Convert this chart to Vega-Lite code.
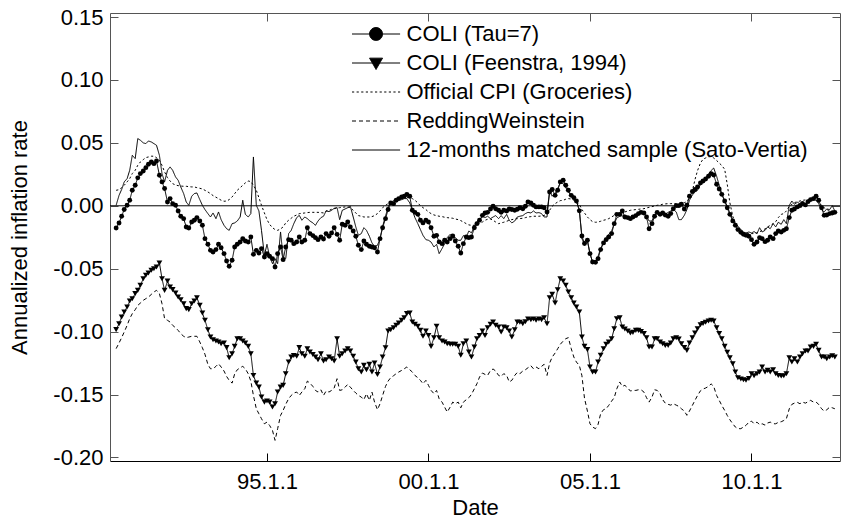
{
"$schema":"https://vega.github.io/schema/vega-lite/v6.json",
"width":730,"height":448,
"autosize":{"type":"none"},
"padding":{"left":110,"top":13,"right":1,"bottom":63},
"background":"white",
"config":{"font":"Liberation Sans","view":{"stroke":null},
"axis":{"grid":false,"labelFont":"Liberation Sans","titleFont":"Liberation Sans","labelFontSize":22,"titleFontSize":22,"labelColor":"black","titleColor":"black","titleFontWeight":"normal","domainColor":"#555","tickColor":"#555","labelFlush":false,"labelOverlap":false}},
"data":{"values":[
{"t":1990.33,"a":-0.0176,"b":-0.0984,"c":0.0123,"r":-0.1135,"s":0.0004},
{"t":1990.42,"a":-0.0137,"b":-0.0937,"c":0.0128,"r":-0.109,"s":0.0083},
{"t":1990.5,"a":-0.0083,"b":-0.0884,"c":0.0143,"r":-0.1048,"s":0.0129},
{"t":1990.58,"a":-0.003,"b":-0.0844,"c":0.0163,"r":-0.1003,"s":0.019},
{"t":1990.67,"a":0.0004,"b":-0.0804,"c":0.019,"r":-0.095,"s":0.0216},
{"t":1990.75,"a":0.0044,"b":-0.0757,"c":0.0216,"r":-0.0897,"s":0.0282},
{"t":1990.83,"a":0.0123,"b":-0.0738,"c":0.0256,"r":-0.0857,"s":0.0401},
{"t":1990.92,"a":0.0163,"b":-0.0698,"c":0.0282,"r":-0.0826,"s":0.0375},
{"t":1991,"a":0.0222,"b":-0.0672,"c":0.0322,"r":-0.0791,"s":0.0534},
{"t":1991.08,"a":0.0256,"b":-0.0632,"c":0.0348,"r":-0.0773,"s":0.0521},
{"t":1991.17,"a":0.0276,"b":-0.0579,"c":0.0367,"r":-0.0751,"s":0.05},
{"t":1991.25,"a":0.0303,"b":-0.0552,"c":0.0383,"r":-0.0738,"s":0.0494},
{"t":1991.33,"a":0.033,"b":-0.0534,"c":0.0388,"r":-0.0725,"s":0.0515},
{"t":1991.42,"a":0.0348,"b":-0.0513,"c":0.0394,"r":-0.0704,"s":0.0507},
{"t":1991.5,"a":0.0335,"b":-0.05,"c":0.0394,"r":-0.0685,"s":0.0494},
{"t":1991.58,"a":0.0356,"b":-0.0486,"c":0.0383,"r":-0.0672,"s":0.0481},
{"t":1991.67,"a":0.0243,"b":-0.0454,"c":0.0362,"r":-0.0698,"s":0.0401},
{"t":1991.75,"a":0.019,"b":-0.0579,"c":0.0322,"r":-0.0778,"s":0.0256},
{"t":1991.83,"a":0.0137,"b":-0.0672,"c":0.0269,"r":-0.0897,"s":0.019},
{"t":1991.92,"a":0.003,"b":-0.0598,"c":0.0224,"r":-0.091,"s":0.0282},
{"t":1992,"a":0.0057,"b":-0.0645,"c":0.0197,"r":-0.0924,"s":0.0309},
{"t":1992.08,"a":0.0017,"b":-0.0666,"c":0.0176,"r":-0.095,"s":0.0282},
{"t":1992.17,"a":0.0004,"b":-0.0693,"c":0.0165,"r":-0.0969,"s":0.0229},
{"t":1992.25,"a":-0.0041,"b":-0.0725,"c":0.016,"r":-0.099,"s":0.0203},
{"t":1992.33,"a":-0.0083,"b":-0.0746,"c":0.0157,"r":-0.1016,"s":0.015},
{"t":1992.42,"a":-0.0102,"b":-0.0778,"c":0.0155,"r":-0.1037,"s":0.0097},
{"t":1992.5,"a":-0.0168,"b":-0.0817,"c":0.0155,"r":-0.1048,"s":0.003},
{"t":1992.58,"a":-0.0176,"b":-0.0825,"c":0.0152,"r":-0.1043,"s":0.0004},
{"t":1992.67,"a":-0.0129,"b":-0.0778,"c":0.015,"r":-0.1037,"s":0.0076},
{"t":1992.75,"a":-0.0115,"b":-0.0757,"c":0.015,"r":-0.1037,"s":0.0097},
{"t":1992.83,"a":-0.0094,"b":-0.073,"c":0.0144,"r":-0.1037,"s":0.0102},
{"t":1992.92,"a":-0.0121,"b":-0.0791,"c":0.0139,"r":-0.1082,"s":0.0049},
{"t":1993,"a":-0.0155,"b":-0.0852,"c":0.0134,"r":-0.1128,"s":0.0004},
{"t":1993.08,"a":-0.0261,"b":-0.091,"c":0.0123,"r":-0.118,"s":-0.003},
{"t":1993.17,"a":-0.0306,"b":-0.0985,"c":0.011,"r":-0.126,"s":-0.0062},
{"t":1993.25,"a":-0.0354,"b":-0.1043,"c":0.0097,"r":-0.1295,"s":-0.0089},
{"t":1993.33,"a":-0.0367,"b":-0.1064,"c":0.0081,"r":-0.1295,"s":-0.0057},
{"t":1993.42,"a":-0.0348,"b":-0.1075,"c":0.0068,"r":-0.1276,"s":-0.0102},
{"t":1993.5,"a":-0.0306,"b":-0.1083,"c":0.0057,"r":-0.1255,"s":-0.0049},
{"t":1993.58,"a":-0.0333,"b":-0.1096,"c":0.0044,"r":-0.1281,"s":-0.011},
{"t":1993.67,"a":-0.038,"b":-0.109,"c":0.0036,"r":-0.1313,"s":-0.0155},
{"t":1993.75,"a":-0.0439,"b":-0.1127,"c":0.0038,"r":-0.1356,"s":-0.0182},
{"t":1993.83,"a":-0.0481,"b":-0.1207,"c":0.0049,"r":-0.1387,"s":-0.0195},
{"t":1993.92,"a":-0.0433,"b":-0.1175,"c":0.007,"r":-0.1409,"s":-0.0142},
{"t":1994,"a":-0.0327,"b":-0.1117,"c":0.0097,"r":-0.1335,"s":-0.0136},
{"t":1994.08,"a":-0.0306,"b":-0.1056,"c":0.0123,"r":-0.1303,"s":-0.0121},
{"t":1994.17,"a":-0.0288,"b":-0.1056,"c":0.0144,"r":-0.1287,"s":-0.0089},
{"t":1994.25,"a":-0.0261,"b":-0.1075,"c":0.0163,"r":-0.1276,"s":0.0044},
{"t":1994.33,"a":-0.028,"b":-0.109,"c":0.0182,"r":-0.1295,"s":-0.0068},
{"t":1994.42,"a":-0.0288,"b":-0.1117,"c":0.0197,"r":-0.1335,"s":-0.0089},
{"t":1994.5,"a":-0.0248,"b":-0.1175,"c":0.0192,"r":-0.1393,"s":-0.0062},
{"t":1994.58,"a":-0.0386,"b":-0.1348,"c":0.0163,"r":-0.1507,"s":0.0388},
{"t":1994.67,"a":-0.0354,"b":-0.1409,"c":0.0123,"r":-0.1613,"s":0.0004},
{"t":1994.75,"a":-0.0375,"b":-0.1441,"c":0.0065,"r":-0.1653,"s":-0.0041},
{"t":1994.83,"a":-0.034,"b":-0.152,"c":0.0004,"r":-0.1692,"s":-0.0195},
{"t":1994.92,"a":-0.0407,"b":-0.156,"c":-0.0057,"r":-0.1732,"s":-0.0394},
{"t":1995,"a":-0.038,"b":-0.1552,"c":-0.011,"r":-0.1719,"s":-0.0306},
{"t":1995.08,"a":-0.0401,"b":-0.156,"c":-0.0147,"r":-0.1745,"s":-0.0401},
{"t":1995.17,"a":-0.042,"b":-0.1599,"c":-0.0174,"r":-0.1785,"s":-0.046},
{"t":1995.25,"a":-0.0486,"b":-0.1573,"c":-0.0189,"r":-0.1864,"s":-0.042},
{"t":1995.33,"a":-0.038,"b":-0.148,"c":-0.0195,"r":-0.1771,"s":-0.046},
{"t":1995.42,"a":-0.0327,"b":-0.1441,"c":-0.0184,"r":-0.1666,"s":-0.0208},
{"t":1995.5,"a":-0.0428,"b":-0.1427,"c":-0.0168,"r":-0.1626,"s":-0.0407},
{"t":1995.58,"a":-0.0327,"b":-0.1335,"c":-0.0136,"r":-0.1578,"s":-0.042},
{"t":1995.67,"a":-0.0269,"b":-0.1242,"c":-0.0115,"r":-0.1533,"s":-0.0221},
{"t":1995.75,"a":-0.0274,"b":-0.1202,"c":-0.0099,"r":-0.1507,"s":-0.0195},
{"t":1995.83,"a":-0.0301,"b":-0.1189,"c":-0.0083,"r":-0.1488,"s":-0.0142},
{"t":1995.92,"a":-0.0288,"b":-0.1196,"c":-0.0073,"r":-0.148,"s":-0.0094},
{"t":1996,"a":-0.0248,"b":-0.1127,"c":-0.0062,"r":-0.1507,"s":-0.0076},
{"t":1996.08,"a":-0.0288,"b":-0.1175,"c":-0.006,"r":-0.148,"s":-0.0115},
{"t":1996.17,"a":-0.0274,"b":-0.1196,"c":-0.0057,"r":-0.1454,"s":-0.0089},
{"t":1996.25,"a":-0.0174,"b":-0.1136,"c":-0.0054,"r":-0.1393,"s":-0.0102},
{"t":1996.33,"a":-0.0221,"b":-0.1162,"c":-0.0052,"r":-0.1409,"s":-0.0121},
{"t":1996.42,"a":-0.0237,"b":-0.1181,"c":-0.0052,"r":-0.1435,"s":-0.0136},
{"t":1996.5,"a":-0.0253,"b":-0.1202,"c":-0.0052,"r":-0.1467,"s":-0.0155},
{"t":1996.58,"a":-0.0269,"b":-0.1223,"c":-0.0052,"r":-0.148,"s":-0.0121},
{"t":1996.67,"a":-0.0248,"b":-0.1175,"c":-0.0054,"r":-0.1462,"s":-0.0094},
{"t":1996.75,"a":-0.0264,"b":-0.1234,"c":-0.0057,"r":-0.1507,"s":-0.0083},
{"t":1996.83,"a":-0.0221,"b":-0.1223,"c":-0.0041,"r":-0.1472,"s":-0.0041},
{"t":1996.92,"a":-0.0242,"b":-0.1202,"c":-0.0036,"r":-0.148,"s":-0.0046},
{"t":1997,"a":-0.0216,"b":-0.1215,"c":-0.0028,"r":-0.1467,"s":-0.0036},
{"t":1997.08,"a":-0.0174,"b":-0.1234,"c":-0.0023,"r":-0.1448,"s":-0.002},
{"t":1997.17,"a":-0.0227,"b":-0.1056,"c":-0.0017,"r":-0.1374,"s":-0.0015},
{"t":1997.25,"a":-0.0274,"b":-0.1196,"c":-0.0015,"r":-0.1467,"s":-0.011},
{"t":1997.33,"a":-0.0147,"b":-0.1175,"c":-0.0012,"r":-0.1462,"s":-0.0036},
{"t":1997.42,"a":-0.0155,"b":-0.1154,"c":-0.0009,"r":-0.1441,"s":-0.0025},
{"t":1997.5,"a":-0.0129,"b":-0.1136,"c":-0.0009,"r":-0.1419,"s":-0.0015},
{"t":1997.58,"a":-0.0168,"b":-0.1154,"c":-0.0015,"r":-0.1441,"s":-0.0004},
{"t":1997.67,"a":-0.02,"b":-0.1196,"c":-0.0036,"r":-0.1467,"s":-0.0089},
{"t":1997.75,"a":-0.0242,"b":-0.1242,"c":-0.0057,"r":-0.1488,"s":-0.0168},
{"t":1997.83,"a":-0.0314,"b":-0.1295,"c":-0.0078,"r":-0.1507,"s":-0.0235},
{"t":1997.92,"a":-0.0348,"b":-0.1321,"c":-0.0083,"r":-0.152,"s":-0.0221},
{"t":1998,"a":-0.028,"b":-0.1268,"c":-0.0089,"r":-0.1541,"s":-0.0174},
{"t":1998.08,"a":-0.0306,"b":-0.1303,"c":-0.0089,"r":-0.1493,"s":-0.0195},
{"t":1998.17,"a":-0.0322,"b":-0.126,"c":-0.0089,"r":-0.1546,"s":-0.0242},
{"t":1998.25,"a":-0.0327,"b":-0.1321,"c":-0.0086,"r":-0.148,"s":-0.0295},
{"t":1998.33,"a":-0.0333,"b":-0.125,"c":-0.0078,"r":-0.156,"s":-0.0322},
{"t":1998.42,"a":-0.0367,"b":-0.134,"c":-0.0062,"r":-0.162,"s":-0.0314},
{"t":1998.5,"a":-0.0261,"b":-0.1281,"c":-0.0041,"r":-0.1573,"s":-0.0261},
{"t":1998.58,"a":-0.0174,"b":-0.1202,"c":-0.0015,"r":-0.1507,"s":-0.0163},
{"t":1998.67,"a":-0.0102,"b":-0.1128,"c":0.0004,"r":-0.1435,"s":-0.0083},
{"t":1998.75,"a":-0.003,"b":-0.0995,"c":0.0017,"r":-0.1393,"s":-0.0009},
{"t":1998.83,"a":0.0023,"b":-0.0985,"c":0.003,"r":-0.1366,"s":0.003},
{"t":1998.92,"a":0.0017,"b":-0.0969,"c":0.0044,"r":-0.135,"s":0.0038},
{"t":1999,"a":0.0044,"b":-0.095,"c":0.0052,"r":-0.1334,"s":0.0044},
{"t":1999.08,"a":0.0057,"b":-0.0931,"c":0.0057,"r":-0.1321,"s":0.0044},
{"t":1999.17,"a":0.007,"b":-0.091,"c":0.0062,"r":-0.1308,"s":0.0049},
{"t":1999.25,"a":0.0076,"b":-0.0889,"c":0.0065,"r":-0.1295,"s":0.0057},
{"t":1999.33,"a":0.0091,"b":-0.0857,"c":0.0065,"r":-0.1281,"s":0.0057},
{"t":1999.42,"a":0.0076,"b":-0.0852,"c":0.0065,"r":-0.1303,"s":0.0023},
{"t":1999.5,"a":-0.0036,"b":-0.0924,"c":0.0057,"r":-0.1321,"s":-0.0036},
{"t":1999.58,"a":-0.0052,"b":-0.0942,"c":0.0044,"r":-0.1348,"s":-0.0094},
{"t":1999.67,"a":-0.0068,"b":-0.0958,"c":0.0023,"r":-0.1366,"s":-0.0142},
{"t":1999.75,"a":-0.0115,"b":-0.099,"c":0.0001,"r":-0.1387,"s":-0.0189},
{"t":1999.83,"a":-0.0136,"b":-0.1037,"c":-0.0015,"r":-0.1414,"s":-0.0235},
{"t":1999.92,"a":-0.0115,"b":-0.0995,"c":-0.003,"r":-0.1387,"s":-0.0269},
{"t":2000,"a":-0.0129,"b":-0.103,"c":-0.0049,"r":-0.1427,"s":-0.0274},
{"t":2000.08,"a":-0.0174,"b":-0.1117,"c":-0.0062,"r":-0.1467,"s":-0.0288},
{"t":2000.17,"a":-0.0242,"b":-0.1048,"c":-0.0073,"r":-0.1493,"s":-0.0327},
{"t":2000.25,"a":-0.0235,"b":-0.0958,"c":-0.0078,"r":-0.1467,"s":-0.0306},
{"t":2000.33,"a":-0.0287,"b":-0.1048,"c":-0.0083,"r":-0.1533,"s":-0.038},
{"t":2000.42,"a":-0.0301,"b":-0.1075,"c":-0.0086,"r":-0.156,"s":-0.034},
{"t":2000.5,"a":-0.0274,"b":-0.1083,"c":-0.0091,"r":-0.16,"s":-0.0301},
{"t":2000.58,"a":-0.0288,"b":-0.1096,"c":-0.0094,"r":-0.1639,"s":-0.0253},
{"t":2000.67,"a":-0.0261,"b":-0.1101,"c":-0.0097,"r":-0.16,"s":-0.0227},
{"t":2000.75,"a":-0.024,"b":-0.1101,"c":-0.0099,"r":-0.156,"s":-0.0253},
{"t":2000.83,"a":-0.028,"b":-0.1101,"c":-0.0105,"r":-0.1573,"s":-0.0253},
{"t":2000.92,"a":-0.0322,"b":-0.1117,"c":-0.011,"r":-0.156,"s":-0.0274},
{"t":2001,"a":-0.0375,"b":-0.1188,"c":-0.0118,"r":-0.1605,"s":-0.0274},
{"t":2001.08,"a":-0.0301,"b":-0.1096,"c":-0.0129,"r":-0.156,"s":-0.0237},
{"t":2001.17,"a":-0.0248,"b":-0.1075,"c":-0.0142,"r":-0.1541,"s":-0.0248},
{"t":2001.25,"a":-0.0253,"b":-0.1162,"c":-0.0152,"r":-0.1525,"s":-0.02},
{"t":2001.33,"a":-0.0248,"b":-0.1202,"c":-0.0155,"r":-0.1499,"s":-0.0216},
{"t":2001.42,"a":-0.0174,"b":-0.1122,"c":-0.0155,"r":-0.1454,"s":-0.0163},
{"t":2001.5,"a":-0.0142,"b":-0.1056,"c":-0.015,"r":-0.1414,"s":-0.0126},
{"t":2001.58,"a":-0.0115,"b":-0.103,"c":-0.0142,"r":-0.1361,"s":-0.0115},
{"t":2001.67,"a":-0.0076,"b":-0.0995,"c":-0.0129,"r":-0.1329,"s":-0.0083},
{"t":2001.75,"a":-0.0057,"b":-0.103,"c":-0.0115,"r":-0.134,"s":-0.0094},
{"t":2001.83,"a":-0.0052,"b":-0.0969,"c":-0.0107,"r":-0.1348,"s":-0.0083},
{"t":2001.92,"a":-0.0025,"b":-0.0942,"c":-0.0105,"r":-0.1308,"s":-0.0102},
{"t":2002,"a":-0.0004,"b":-0.0924,"c":-0.0115,"r":-0.1297,"s":-0.0089},
{"t":2002.08,"a":-0.0023,"b":-0.095,"c":-0.0129,"r":-0.1313,"s":-0.0078},
{"t":2002.17,"a":-0.0036,"b":-0.0963,"c":-0.0142,"r":-0.1348,"s":-0.0102},
{"t":2002.25,"a":-0.0052,"b":-0.1003,"c":-0.0136,"r":-0.1356,"s":-0.0078},
{"t":2002.33,"a":-0.0036,"b":-0.0963,"c":-0.0131,"r":-0.1334,"s":-0.0102},
{"t":2002.42,"a":-0.0041,"b":-0.0969,"c":-0.0123,"r":-0.1348,"s":-0.0068},
{"t":2002.5,"a":-0.0025,"b":-0.0995,"c":-0.0115,"r":-0.14,"s":-0.0115},
{"t":2002.58,"a":-0.003,"b":-0.1043,"c":-0.011,"r":-0.1387,"s":-0.0136},
{"t":2002.67,"a":-0.0036,"b":-0.0985,"c":-0.0105,"r":-0.1348,"s":-0.0121},
{"t":2002.75,"a":-0.0028,"b":-0.0924,"c":-0.0102,"r":-0.1324,"s":-0.0089},
{"t":2002.83,"a":-0.0015,"b":-0.0926,"c":-0.0102,"r":-0.1334,"s":-0.0083},
{"t":2002.92,"a":-0.0023,"b":-0.0937,"c":-0.0099,"r":-0.1313,"s":-0.0078},
{"t":2003,"a":-0.0004,"b":-0.0921,"c":-0.0094,"r":-0.1303,"s":-0.0062},
{"t":2003.08,"a":0.003,"b":-0.09,"c":-0.0089,"r":-0.1287,"s":-0.0052},
{"t":2003.17,"a":0.0023,"b":-0.0905,"c":-0.0086,"r":-0.1271,"s":-0.0057},
{"t":2003.25,"a":0.0004,"b":-0.09,"c":-0.0083,"r":-0.1295,"s":-0.0041},
{"t":2003.33,"a":-0.0009,"b":-0.091,"c":-0.0083,"r":-0.1281,"s":-0.0057},
{"t":2003.42,"a":-0.0009,"b":-0.09,"c":-0.0083,"r":-0.1295,"s":-0.0054},
{"t":2003.5,"a":-0.0009,"b":-0.0905,"c":-0.0081,"r":-0.1276,"s":-0.0062},
{"t":2003.58,"a":-0.0015,"b":-0.0889,"c":-0.0076,"r":-0.126,"s":-0.0089},
{"t":2003.67,"a":-0.0049,"b":-0.0937,"c":-0.0068,"r":-0.1348,"s":-0.0089},
{"t":2003.75,"a":0.011,"b":-0.073,"c":-0.0036,"r":-0.125,"s":0.0118},
{"t":2003.83,"a":0.0129,"b":-0.0704,"c":-0.0004,"r":-0.1202,"s":0.0076},
{"t":2003.92,"a":0.0083,"b":-0.0773,"c":0.0017,"r":-0.117,"s":0.0102},
{"t":2004,"a":0.0123,"b":-0.0667,"c":0.003,"r":-0.1136,"s":0.0136},
{"t":2004.08,"a":0.019,"b":-0.0579,"c":0.0041,"r":-0.1101,"s":0.0182},
{"t":2004.17,"a":0.0203,"b":-0.0598,"c":0.0044,"r":-0.1075,"s":0.0176},
{"t":2004.25,"a":0.0163,"b":-0.0632,"c":0.0052,"r":-0.1056,"s":0.0144},
{"t":2004.33,"a":0.0123,"b":-0.0685,"c":0.0057,"r":-0.1048,"s":0.011},
{"t":2004.42,"a":0.0083,"b":-0.073,"c":0.0054,"r":-0.1136,"s":0.0081},
{"t":2004.5,"a":0.0065,"b":-0.0773,"c":0.0044,"r":-0.1202,"s":0.0054},
{"t":2004.58,"a":0.0038,"b":-0.0804,"c":0.003,"r":-0.1242,"s":0.0038},
{"t":2004.67,"a":-0.004,"b":-0.0844,"c":0.0012,"r":-0.1268,"s":-0.003},
{"t":2004.75,"a":-0.024,"b":-0.1043,"c":-0.003,"r":-0.135,"s":-0.026},
{"t":2004.83,"a":-0.03,"b":-0.1117,"c":-0.0057,"r":-0.153,"s":-0.0306},
{"t":2004.92,"a":-0.0274,"b":-0.1143,"c":-0.0089,"r":-0.1631,"s":-0.028},
{"t":2005,"a":-0.038,"b":-0.1281,"c":-0.011,"r":-0.1732,"s":-0.038},
{"t":2005.08,"a":-0.0447,"b":-0.1321,"c":-0.0126,"r":-0.1758,"s":-0.0447},
{"t":2005.17,"a":-0.0449,"b":-0.1321,"c":-0.0131,"r":-0.1771,"s":-0.0444},
{"t":2005.25,"a":-0.042,"b":-0.1242,"c":-0.0129,"r":-0.1737,"s":-0.0401},
{"t":2005.33,"a":-0.0348,"b":-0.1188,"c":-0.0123,"r":-0.1652,"s":-0.034},
{"t":2005.42,"a":-0.0295,"b":-0.1136,"c":-0.0115,"r":-0.162,"s":-0.0288},
{"t":2005.5,"a":-0.0269,"b":-0.1101,"c":-0.011,"r":-0.1613,"s":-0.0253},
{"t":2005.58,"a":-0.0248,"b":-0.1083,"c":-0.0102,"r":-0.1586,"s":-0.0227},
{"t":2005.67,"a":-0.0221,"b":-0.1056,"c":-0.0089,"r":-0.1552,"s":-0.02},
{"t":2005.75,"a":-0.0142,"b":-0.0977,"c":-0.0076,"r":-0.1525,"s":-0.0142},
{"t":2005.83,"a":-0.0068,"b":-0.0897,"c":-0.0068,"r":-0.1454,"s":-0.0097},
{"t":2005.92,"a":-0.0068,"b":-0.0889,"c":-0.0062,"r":-0.14,"s":-0.0083},
{"t":2006,"a":-0.0041,"b":-0.0963,"c":-0.0054,"r":-0.1435,"s":-0.0078},
{"t":2006.08,"a":-0.0089,"b":-0.0979,"c":-0.0049,"r":-0.1427,"s":-0.0102},
{"t":2006.17,"a":-0.0094,"b":-0.0995,"c":-0.0041,"r":-0.1448,"s":-0.0102},
{"t":2006.25,"a":-0.0102,"b":-0.1011,"c":-0.0036,"r":-0.1472,"s":-0.0094},
{"t":2006.33,"a":-0.0089,"b":-0.1006,"c":-0.0033,"r":-0.1467,"s":-0.0089},
{"t":2006.42,"a":-0.0078,"b":-0.099,"c":-0.003,"r":-0.1467,"s":-0.0081},
{"t":2006.5,"a":-0.0062,"b":-0.099,"c":-0.0028,"r":-0.1462,"s":-0.0068},
{"t":2006.58,"a":-0.0052,"b":-0.1,"c":-0.0025,"r":-0.1462,"s":-0.0057},
{"t":2006.67,"a":-0.0057,"b":-0.1016,"c":-0.0023,"r":-0.148,"s":-0.0062},
{"t":2006.75,"a":-0.0089,"b":-0.1048,"c":-0.0017,"r":-0.1525,"s":-0.0083},
{"t":2006.83,"a":-0.0182,"b":-0.1122,"c":-0.0012,"r":-0.156,"s":-0.0121},
{"t":2006.92,"a":-0.0142,"b":-0.1122,"c":-0.0007,"r":-0.152,"s":-0.0121},
{"t":2007,"a":-0.0083,"b":-0.1056,"c":-0.0001,"r":-0.1462,"s":-0.0068},
{"t":2007.08,"a":-0.0052,"b":-0.1056,"c":0.0004,"r":-0.1467,"s":-0.0057},
{"t":2007.17,"a":-0.0068,"b":-0.1083,"c":0.0007,"r":-0.1493,"s":-0.0062},
{"t":2007.25,"a":-0.0057,"b":-0.1096,"c":0.0012,"r":-0.1541,"s":-0.0065},
{"t":2007.33,"a":-0.0073,"b":-0.1109,"c":0.0015,"r":-0.1568,"s":-0.0068},
{"t":2007.42,"a":-0.0083,"b":-0.1109,"c":0.0017,"r":-0.1578,"s":-0.0052},
{"t":2007.5,"a":-0.0062,"b":-0.109,"c":0.0017,"r":-0.1584,"s":-0.0041},
{"t":2007.58,"a":-0.0023,"b":-0.1056,"c":0.0017,"r":-0.1573,"s":-0.003},
{"t":2007.67,"a":0.0001,"b":-0.1048,"c":0.0017,"r":-0.1584,"s":-0.0049},
{"t":2007.75,"a":0.0001,"b":-0.1059,"c":0.002,"r":-0.1594,"s":-0.011},
{"t":2007.83,"a":0.0012,"b":-0.1096,"c":0.0023,"r":-0.1613,"s":-0.011},
{"t":2007.92,"a":-0.0025,"b":-0.1127,"c":0.0025,"r":-0.1631,"s":-0.0076},
{"t":2008,"a":0.0004,"b":-0.1149,"c":0.0033,"r":-0.1665,"s":-0.003},
{"t":2008.08,"a":0.0076,"b":-0.109,"c":0.0065,"r":-0.1631,"s":0.0044},
{"t":2008.17,"a":0.0113,"b":-0.1048,"c":0.0118,"r":-0.1586,"s":0.0086},
{"t":2008.25,"a":0.0129,"b":-0.1011,"c":0.0208,"r":-0.1546,"s":0.011},
{"t":2008.33,"a":0.015,"b":-0.0977,"c":0.028,"r":-0.1507,"s":0.0123},
{"t":2008.42,"a":0.0182,"b":-0.0945,"c":0.034,"r":-0.147,"s":0.017},
{"t":2008.5,"a":0.0197,"b":-0.0935,"c":0.037,"r":-0.1456,"s":0.0195},
{"t":2008.58,"a":0.0213,"b":-0.0925,"c":0.038,"r":-0.1448,"s":0.022},
{"t":2008.67,"a":0.0235,"b":-0.0916,"c":0.039,"r":-0.1435,"s":0.025},
{"t":2008.75,"a":0.0256,"b":-0.091,"c":0.039,"r":-0.1415,"s":0.028},
{"t":2008.83,"a":0.0245,"b":-0.0915,"c":0.038,"r":-0.1435,"s":0.03},
{"t":2008.92,"a":0.0171,"b":-0.0969,"c":0.036,"r":-0.1507,"s":0.0235},
{"t":2009,"a":0.0134,"b":-0.1016,"c":0.034,"r":-0.1546,"s":0.0163},
{"t":2009.08,"a":0.0091,"b":-0.1056,"c":0.032,"r":-0.1586,"s":0.0097},
{"t":2009.17,"a":0.0038,"b":-0.1117,"c":0.029,"r":-0.1626,"s":0.0038},
{"t":2009.25,"a":-0.0015,"b":-0.1165,"c":0.017,"r":-0.1666,"s":-0.0004},
{"t":2009.33,"a":-0.0068,"b":-0.1207,"c":0.0025,"r":-0.17,"s":-0.0057},
{"t":2009.42,"a":-0.012,"b":-0.1255,"c":-0.0083,"r":-0.1732,"s":-0.011},
{"t":2009.5,"a":-0.0155,"b":-0.1321,"c":-0.0136,"r":-0.1758,"s":-0.0142},
{"t":2009.58,"a":-0.0189,"b":-0.1366,"c":-0.0168,"r":-0.1771,"s":-0.0163},
{"t":2009.67,"a":-0.0211,"b":-0.1377,"c":-0.0195,"r":-0.1771,"s":-0.0189},
{"t":2009.75,"a":-0.0227,"b":-0.1382,"c":-0.0211,"r":-0.1758,"s":-0.0208},
{"t":2009.83,"a":-0.0235,"b":-0.1387,"c":-0.0216,"r":-0.1745,"s":-0.0216},
{"t":2009.92,"a":-0.0242,"b":-0.1372,"c":-0.0221,"r":-0.1719,"s":-0.0208},
{"t":2010,"a":-0.0269,"b":-0.1335,"c":-0.0221,"r":-0.1711,"s":-0.0216},
{"t":2010.08,"a":-0.0306,"b":-0.1351,"c":-0.0221,"r":-0.1732,"s":-0.0205},
{"t":2010.17,"a":-0.0288,"b":-0.1335,"c":-0.0216,"r":-0.1719,"s":-0.0221},
{"t":2010.25,"a":-0.0253,"b":-0.1321,"c":-0.0208,"r":-0.174,"s":-0.0174},
{"t":2010.33,"a":-0.0261,"b":-0.1281,"c":-0.0195,"r":-0.1732,"s":-0.0208},
{"t":2010.42,"a":-0.0285,"b":-0.1321,"c":-0.0184,"r":-0.1743,"s":-0.0195},
{"t":2010.5,"a":-0.0274,"b":-0.1308,"c":-0.0168,"r":-0.1726,"s":-0.0168},
{"t":2010.58,"a":-0.0248,"b":-0.1321,"c":-0.0155,"r":-0.1719,"s":-0.0182},
{"t":2010.67,"a":-0.0261,"b":-0.1303,"c":-0.0142,"r":-0.1732,"s":-0.0142},
{"t":2010.75,"a":-0.0221,"b":-0.1335,"c":-0.0126,"r":-0.1732,"s":-0.0168},
{"t":2010.83,"a":-0.02,"b":-0.1348,"c":-0.0094,"r":-0.1721,"s":-0.0131},
{"t":2010.92,"a":-0.0208,"b":-0.1353,"c":-0.0068,"r":-0.1716,"s":-0.0147},
{"t":2011,"a":-0.0195,"b":-0.1351,"c":-0.0062,"r":-0.1706,"s":-0.011},
{"t":2011.08,"a":-0.0182,"b":-0.1335,"c":-0.0041,"r":-0.1692,"s":-0.0142},
{"t":2011.17,"a":-0.0094,"b":-0.1207,"c":-0.0004,"r":-0.1613,"s":0.0004},
{"t":2011.25,"a":-0.0036,"b":-0.1242,"c":0.0012,"r":-0.1578,"s":0.0038},
{"t":2011.33,"a":-0.0025,"b":-0.1215,"c":0.0025,"r":-0.1568,"s":0.0012},
{"t":2011.42,"a":-0.0009,"b":-0.1242,"c":0.0033,"r":-0.1562,"s":0.0028},
{"t":2011.5,"a":0.0001,"b":-0.1202,"c":0.0038,"r":-0.1573,"s":0.0017},
{"t":2011.58,"a":0.0017,"b":-0.1175,"c":0.0044,"r":-0.156,"s":0.0038},
{"t":2011.67,"a":0.0007,"b":-0.1154,"c":0.0046,"r":-0.1568,"s":0.0007},
{"t":2011.75,"a":0.0033,"b":-0.1154,"c":0.0049,"r":-0.1557,"s":0.0028},
{"t":2011.83,"a":0.0049,"b":-0.1122,"c":0.0049,"r":-0.1546,"s":0.0044},
{"t":2011.92,"a":0.0057,"b":-0.1117,"c":0.0049,"r":-0.156,"s":0.0049},
{"t":2012,"a":0.0076,"b":-0.1101,"c":0.0044,"r":-0.156,"s":0.0044},
{"t":2012.08,"a":0.0044,"b":-0.1149,"c":0.0028,"r":-0.1578,"s":0.0017},
{"t":2012.17,"a":-0.0015,"b":-0.1202,"c":0.0004,"r":-0.1613,"s":-0.003},
{"t":2012.25,"a":-0.0076,"b":-0.1202,"c":-0.0015,"r":-0.1631,"s":-0.0049},
{"t":2012.33,"a":-0.0073,"b":-0.1215,"c":-0.003,"r":-0.1621,"s":-0.0025},
{"t":2012.42,"a":-0.0062,"b":-0.1202,"c":-0.0038,"r":-0.16,"s":-0.003},
{"t":2012.5,"a":-0.0057,"b":-0.1191,"c":-0.0041,"r":-0.1605,"s":0.0001},
{"t":2012.58,"a":-0.0052,"b":-0.1202,"c":-0.0041,"r":-0.1613,"s":-0.0041}
]},
"transform":[{"fold":["a","b","c","r","s"],"as":["k","v"]}],
"layer":[
{"data":{"values":[{}]},"transform":[],"mark":{"type":"rule","color":"black","strokeWidth":1},
 "encoding":{"y":{"datum":0,"type":"quantitative","axis":null}}},
{"mark":{"type":"line","color":"black","strokeWidth":1},
 "encoding":{
  "x":{"field":"t","type":"quantitative","scale":{"domain":[1990.14,2012.74],"nice":false,"zero":false},
   "axis":{"orient":"bottom","values":[1995,2000,2005,2010],"labelExpr":"substring(toString(datum.value),2,4) + '.1.1'","tickSize":-8,"labelPadding":18,"title":"Date","titlePadding":5,"domainColor":"black","tickColor":"black"}},
  "y":{"field":"v","type":"quantitative","scale":{"domain":[-0.2028,0.1532],"nice":false,"zero":false},
   "axis":{"orient":"left","values":[-0.2,-0.15,-0.1,-0.05,0,0.05,0.1,0.15],"labelExpr":"replace(format(datum.value,'.2f'),'\u2212','-')","tickSize":-8,"labelPadding":15,"title":"Annualized inflation rate","titlePadding":21}},
  "strokeDash":{"field":"k","type":"nominal","scale":{"domain":["a","b","c","r","s"],"range":[[1,0],[1,0],[2.2,2.4],[4,3],[1,0]]},
   "legend":{"orient":"none","legendX":237.5,"legendY":10,"title":null,"padding":0,
    "labelExpr":"{'a':'COLI (Tau=7)','b':'COLI (Feenstra, 1994)','c':'Official CPI (Groceries)','r':'ReddingWeinstein','s':'12-months matched sample (Sato-Vertia)'}[datum.value]",
    "labelFontSize":22,"labelColor":"black","labelFont":"Liberation Sans","labelLimit":700,"symbolSize":169,"symbolStrokeWidth":1,"symbolStrokeColor":"black","labelOffset":37,"rowPadding":7,
    "encode":{"symbols":{"update":{
      "shape":{"signal":"datum.value=='a' ? 'M-1,0L6.4,0M1.7,0A1,1,0,1,1,3.7,0A1,1,0,1,1,1.7,0Z' : datum.value=='b' ? 'M-1,0L6.4,0M1.7,-0.75L3.7,-0.75L2.7,1Z' : 'M-1,0L6.4,0'"},
      "fill":{"signal":"datum.value=='a'||datum.value=='b' ? 'black' : 'transparent'"},
      "stroke":{"value":"black"},
      "strokeDash":{"signal":"datum.value=='c' ? [1.5,2.5] : datum.value=='r' ? [5,3] : [1,0]"},
      "strokeWidth":{"signal":"datum.value=='c' ? 1.8 : 1"},
      "opacity":{"value":1}}}}}},
  "strokeWidth":{"field":"k","type":"nominal","scale":{"domain":["a","b","c","r","s"],"range":[1,1,2.6,1,0.9]},"legend":null}
 }},
{"transform":[{"filter":"datum.k=='a'||datum.k=='b'"}],
 "mark":{"type":"point","filled":true,"color":"black","opacity":1},
 "encoding":{
  "x":{"field":"t","type":"quantitative","axis":{"orient":"top","values":[1995,2000,2005,2010],"labels":false,"tickSize":-8,"title":null}},
  "y":{"field":"v","type":"quantitative","axis":{"orient":"right","values":[-0.2,-0.15,-0.1,-0.05,0,0.05,0.1,0.15],"labels":false,"tickSize":-8,"title":null}},
  "shape":{"field":"k","type":"nominal","scale":{"domain":["a","b"],"range":["circle","triangle-down"]},"legend":null},
  "size":{"field":"k","type":"nominal","scale":{"domain":["a","b"],"range":[24,34]},"legend":null}
 }}
],
"resolve":{"axis":{"x":"independent","y":"independent"}}
}
